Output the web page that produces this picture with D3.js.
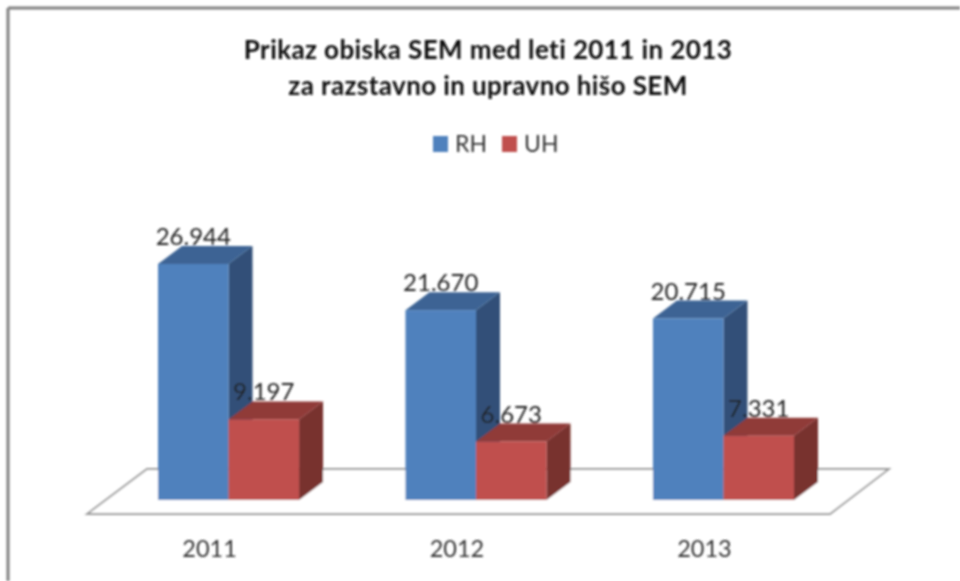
<!DOCTYPE html>
<html>
<head>
<meta charset="utf-8">
<script src="https://cdn.jsdelivr.net/npm/d3@7"></script>
<style>
  body { margin: 0; background: #fff; }
  text { font-family: Lato, "Open Sans", sans-serif; }
</style>
</head>
<body>
<svg id="chart" width="960" height="581"></svg>
<script>
const years = ['2011', '2012', '2013'];
const seriesNames = ['RH', 'UH'];
const rhValues = [26944, 21670, 20715];
const uhValues = [9197, 6673, 7331];
const valueLabels = { RH: ['26.944', '21.670', '20.715'], UH: ['9.197', '6.673', '7.331'] };
const titleLines = ['Prikaz obiska SEM med leti 2011 in 2013', 'za razstavno in upravno hišo SEM'];

const colors = {
  RH: { front: '#4f81bd', top: '#3c6494', side: '#325078' },
  UH: { front: '#c0504d', top: '#903a38', side: '#78302e' }
};
const depthX = 24;
const depthY = 18;
const baseY = 500;

const svg = d3.select('#chart');
const defs = svg.append('defs');
defs.append('filter').attr('id', 'soft')
  .attr('x', '-5%').attr('y', '-5%').attr('width', '110%').attr('height', '110%')
  .append('feGaussianBlur').attr('stdDeviation', 0.8);

const root = svg.append('g').attr('filter', 'url(#soft)');

// frame, only top and left are inside the crop
root.append('line').attr('x1', 8).attr('x2', 960).attr('y1', 8).attr('y2', 8)
  .attr('stroke', '#808080').attr('stroke-width', 3);
root.append('line').attr('x1', 8).attr('x2', 8).attr('y1', 8).attr('y2', 581)
  .attr('stroke', '#808080').attr('stroke-width', 3);

const x0 = d3.scaleBand().domain(years).range([158, 794]).paddingInner(0.43);
const x1 = d3.scaleBand().domain(seriesNames).range([0, x0.bandwidth()]);
const y = d3.scaleLinear().domain([0, 26944]).range([baseY, 264]);

// floor
const floorPts = [
  [x0('2011') - 71, baseY + 14],
  [x0('2013') + x0.bandwidth() + 36, baseY + 14],
  [x0('2013') + x0.bandwidth() + 95, baseY - 31],
  [x0('2011') - 11, baseY - 31]
];
root.append('polygon')
  .attr('points', floorPts.join(' '))
  .attr('fill', '#fff').attr('stroke', '#999').attr('stroke-width', 1.8);

const bars = [];
years.forEach((year, i) => {
  bars.push({ year, name: 'RH', value: rhValues[i], label: valueLabels.RH[i] });
  bars.push({ year, name: 'UH', value: uhValues[i], label: valueLabels.UH[i] });
});

const bar = root.selectAll('.bar').data(bars).enter().append('g').classed('bar', true);

bar.append('polygon').attr('fill', d => colors[d.name].side).attr('points', d => {
  const r = x0(d.year) + x1(d.name) + x1.bandwidth();
  return [[r, y(d.value)], [r + depthX, y(d.value) - depthY], [r + depthX, baseY - depthY], [r, baseY]].join(' ');
});
bar.append('polygon').attr('fill', d => colors[d.name].top).attr('points', d => {
  const l = x0(d.year) + x1(d.name);
  const r = l + x1.bandwidth();
  const t = y(d.value);
  return [[l, t], [r, t], [r + depthX, t - depthY], [l + depthX, t - depthY]].join(' ');
});
bar.append('rect')
  .attr('x', d => x0(d.year) + x1(d.name))
  .attr('y', d => y(d.value))
  .attr('width', x1.bandwidth())
  .attr('height', d => baseY - y(d.value))
  .attr('fill', d => colors[d.name].front);

// data labels sit on top of the bars
root.selectAll('.value').data(bars).enter().append('text').classed('value', true)
  .attr('x', d => x0(d.year) + x1(d.name) + x1.bandwidth() / 2)
  .attr('y', d => y(d.value) - 19)
  .attr('text-anchor', 'middle')
  .attr('font-size', 24)
  .attr('fill', '#222')
  .text(d => d.label);

// category labels
root.selectAll('.year').data(years).enter().append('text').classed('year', true)
  .attr('x', d => x0(d) + x0.bandwidth() / 2 - 19)
  .attr('y', 557)
  .attr('text-anchor', 'middle')
  .attr('font-size', 23.5)
  .attr('fill', '#333')
  .text(d => d);

// title
root.selectAll('.title').data(titleLines).enter().append('text').classed('title', true)
  .attr('x', 488)
  .attr('y', (d, i) => 59 + i * 36)
  .attr('text-anchor', 'middle')
  .attr('font-size', 26)
  .attr('letter-spacing', 0.4)
  .attr('font-weight', 700)
  .attr('fill', '#111')
  .text(d => d);

// legend
const legendX = d3.scaleOrdinal().domain(seriesNames).range([433, 502]);
const legend = root.selectAll('.legend').data(seriesNames).enter().append('g').classed('legend', true);
legend.append('rect')
  .attr('x', d => legendX(d)).attr('y', 136)
  .attr('width', 15).attr('height', 16)
  .attr('fill', d => colors[d].front);
legend.append('text')
  .attr('x', d => legendX(d) + 22).attr('y', 152)
  .attr('font-size', 23)
  .attr('fill', '#333')
  .text(d => d);
</script>
</body>
</html>
